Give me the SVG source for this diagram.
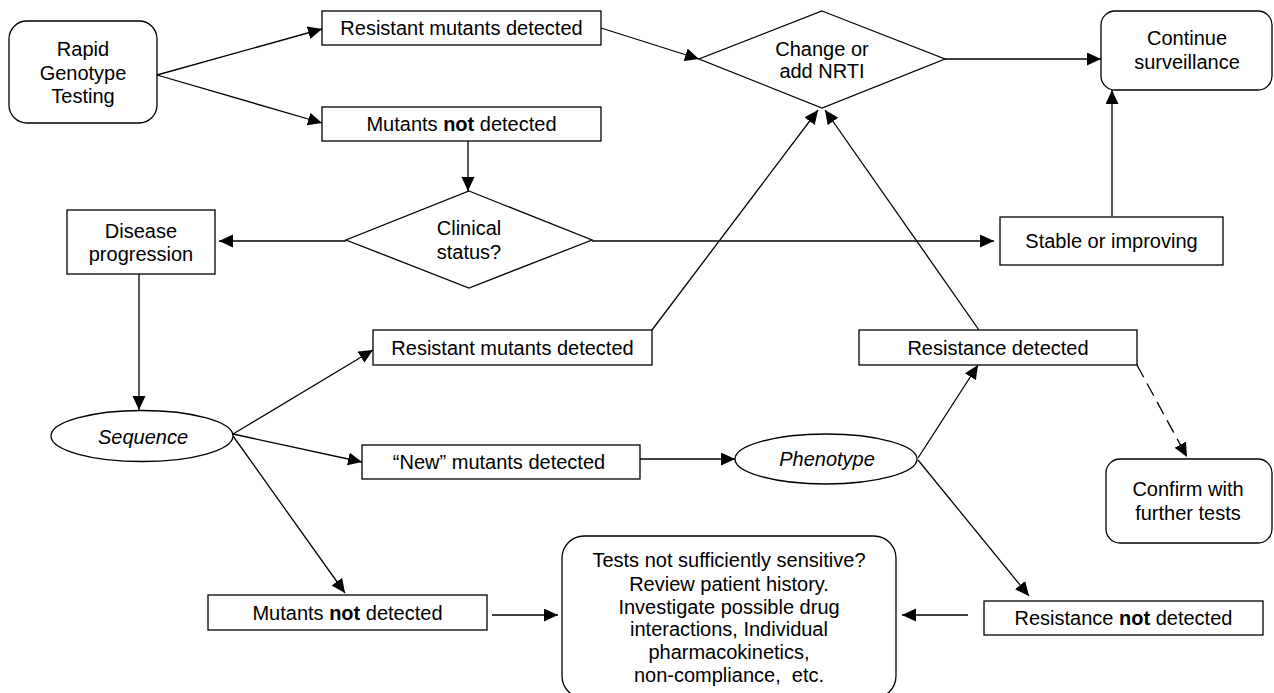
<svg xmlns="http://www.w3.org/2000/svg" width="1274" height="693" viewBox="0 0 1274 693">
<defs>
<marker id="ah" markerUnits="userSpaceOnUse" markerWidth="15" markerHeight="14" refX="14" refY="6.5" orient="auto">
<path d="M0,0 L14,6.5 L0,13 z" fill="#000"/>
</marker>
<style>
.box{fill:#fff;stroke:#000;stroke-width:1.3}
.t{font-family:"Liberation Sans",Arial,sans-serif;font-size:20px;fill:#000;text-anchor:middle}
.i{font-style:italic}
.c{fill:none;stroke:#000;stroke-width:1.3;marker-end:url(#ah)}
.d{stroke-dasharray:14,7}
</style>
</defs>
<rect width="1274" height="693" fill="#fff"/>
<g id="connectors">
<line class="c" x1="157" y1="75" x2="322" y2="29"/>
<line class="c" x1="157" y1="75" x2="322" y2="123"/>
<line class="c" x1="468" y1="141" x2="468" y2="191"/>
<line class="c" x1="346" y1="241" x2="219" y2="241"/>
<line class="c" x1="592" y1="241" x2="994" y2="241"/>
<line class="c" x1="601" y1="28" x2="699" y2="59"/>
<line class="c" x1="945" y1="59" x2="1101" y2="59"/>
<line class="c" x1="1112" y1="216" x2="1112" y2="90"/>
<line class="c" x1="139" y1="274" x2="139" y2="410"/>
<line class="c" x1="233" y1="434" x2="373" y2="350"/>
<line class="c" x1="233" y1="434" x2="362" y2="462"/>
<line class="c" x1="233" y1="436" x2="345" y2="593"/>
<line class="c" x1="652" y1="330" x2="818" y2="110"/>
<line class="c" x1="979" y1="330" x2="825" y2="110"/>
<line class="c" x1="640" y1="459" x2="735" y2="459"/>
<line class="c" x1="918" y1="458" x2="978" y2="365"/>
<line class="c" x1="918" y1="460" x2="1029" y2="596"/>
<line class="c" x1="968" y1="615" x2="902" y2="615"/>
<line class="c" x1="492" y1="615" x2="558" y2="615"/>
<line class="c d" x1="1137" y1="365" x2="1187" y2="457"/>
</g>
<g id="rapid">
<rect class="box" x="9" y="21" width="148" height="102" rx="18"/>
<text class="t" x="83" y="56">Rapid</text>
<text class="t" x="83" y="80">Genotype</text>
<text class="t" x="83" y="103">Testing</text>
</g>
<g id="resistant-top">
<rect class="box" x="322" y="11" width="279" height="34"/>
<text class="t" x="461.5" y="35">Resistant mutants detected</text>
</g>
<g id="notdetected-top">
<rect class="box" x="322" y="107" width="279" height="34"/>
<text class="t" x="461.5" y="131">Mutants <tspan font-weight="bold">not</tspan> detected</text>
</g>
<g id="change">
<polygon class="box" points="822,11 945,59 822,108 699,59"/>
<text class="t" x="822" y="56">Change or</text>
<text class="t" x="822" y="78">add NRTI</text>
</g>
<g id="continue">
<rect class="box" x="1101" y="11" width="171" height="79" rx="14"/>
<text class="t" x="1187" y="45">Continue</text>
<text class="t" x="1187" y="69">surveillance</text>
</g>
<g id="clinical">
<polygon class="box" points="469,191 592,240 469,288 346,240"/>
<text class="t" x="469" y="235">Clinical</text>
<text class="t" x="469" y="259">status?</text>
</g>
<g id="disease">
<rect class="box" x="67" y="210" width="148" height="64"/>
<text class="t" x="141" y="238">Disease</text>
<text class="t" x="141" y="261">progression</text>
</g>
<g id="stable">
<rect class="box" x="1000" y="217" width="223" height="48"/>
<text class="t" x="1111.5" y="248">Stable or improving</text>
</g>
<g id="resistant-mid">
<rect class="box" x="373" y="330" width="279" height="35"/>
<text class="t" x="512.5" y="355">Resistant mutants detected</text>
</g>
<g id="resistance-detected">
<rect class="box" x="859" y="330" width="278" height="35"/>
<text class="t" x="998" y="355">Resistance detected</text>
</g>
<g id="sequence">
<ellipse class="box" cx="142" cy="436" rx="91" ry="25.5"/>
<text class="t i" x="143" y="444">Sequence</text>
</g>
<g id="new-mutants">
<rect class="box" x="362" y="445" width="278" height="34"/>
<text class="t" x="499" y="469">“New” mutants detected</text>
</g>
<g id="phenotype">
<ellipse class="box" cx="826" cy="459" rx="91" ry="25"/>
<text class="t i" x="827" y="466">Phenotype</text>
</g>
<g id="confirm">
<rect class="box" x="1106" y="459" width="166" height="84" rx="14"/>
<text class="t" x="1188" y="496">Confirm with</text>
<text class="t" x="1188" y="520">further tests</text>
</g>
<g id="notdetected-bottom">
<rect class="box" x="208" y="595" width="279" height="35"/>
<text class="t" x="347.5" y="620">Mutants <tspan font-weight="bold">not</tspan> detected</text>
</g>
<g id="tests">
<rect class="box" x="562" y="536" width="334" height="162" rx="22"/>
<text class="t" x="729" y="567">Tests not sufficiently sensitive?</text>
<text class="t" x="729" y="591">Review patient history.</text>
<text class="t" x="729" y="614">Investigate possible drug</text>
<text class="t" x="729" y="636">interactions, Individual</text>
<text class="t" x="729" y="659">pharmacokinetics,</text>
<text class="t" x="729" y="682" xml:space="preserve">non-compliance,  etc.</text>
</g>
<g id="resistance-not">
<rect class="box" x="984" y="601" width="279" height="34"/>
<text class="t" x="1123.5" y="625">Resistance <tspan font-weight="bold">not</tspan> detected</text>
</g>
</svg>
